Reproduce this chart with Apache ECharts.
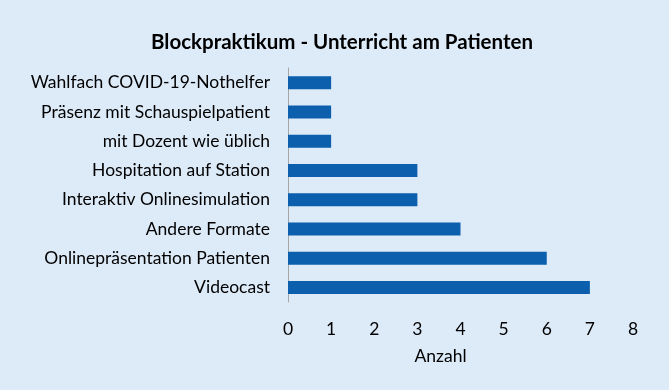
<!DOCTYPE html>
<html>
<head>
<meta charset="utf-8">
<script src="https://cdn.jsdelivr.net/npm/echarts@6/dist/echarts.min.js"></script>
<style>
  html, body { margin: 0; padding: 0; background: #ddeaf8; }
  #chart { width: 669px; height: 390px; }
</style>
</head>
<body>
<div id="chart"></div>
<script>
  // top to bottom, as in the picture
  const categories = [
    'Wahlfach COVID-19-Nothelfer',
    'Präsenz mit Schauspielpatient',
    'mit Dozent wie üblich',
    'Hospitation auf Station',
    'Interaktiv Onlinesimulation',
    'Andere Formate',
    'Onlinepräsentation Patienten',
    'Videocast'
  ]
  const counts = [1, 1, 1, 3, 3, 4, 6, 7]

  const font = 'Lato, "Open Sans", sans-serif'
  let chart = echarts.init(document.getElementById('chart'))
  let option = {
    backgroundColor: '#ddeaf8',
    title: {
      text: 'Blockpraktikum - Unterricht am Patienten',
      left: 337,
      textAlign: 'center',
      top: 27,
      textStyle: {
        fontFamily: font,
        fontSize: 20.5,
        fontWeight: 'bold',
        color: '#000'
      }
    },
    grid: {
      left: 288,
      right: 36,
      top: 68,
      bottom: 88,
      containLabel: false
    },
    xAxis: {
      type: 'value',
      min: 0,
      max: 8,
      interval: 1,
      name: 'Anzahl',
      nameLocation: 'middle',
      nameGap: 45,
      nameTextStyle: {
        fontFamily: font,
        fontSize: 17.5,
        color: '#000',
        padding: [0, 40, 0, 0]
      },
      axisLine: { show: false },
      axisTick: { show: false },
      splitLine: { show: false },
      axisLabel: {
        fontFamily: font,
        fontSize: 17.5,
        color: '#000',
        margin: 18
      }
    },
    yAxis: {
      type: 'category',
      inverse: true,
      data: categories,
      axisLine: { show: true, lineStyle: { color: '#a6a6a6', width: 1 } },
      axisTick: { show: false },
      axisLabel: {
        fontFamily: font,
        fontSize: 17.5,
        color: '#000',
        margin: 18
      }
    },
    series: [
      {
        type: 'bar',
        data: counts,
        barWidth: 13,
        itemStyle: {
          color: '#0b5fad'
        }
      }
    ]
  }
  chart.setOption(option)
</script>
</body>
</html>
